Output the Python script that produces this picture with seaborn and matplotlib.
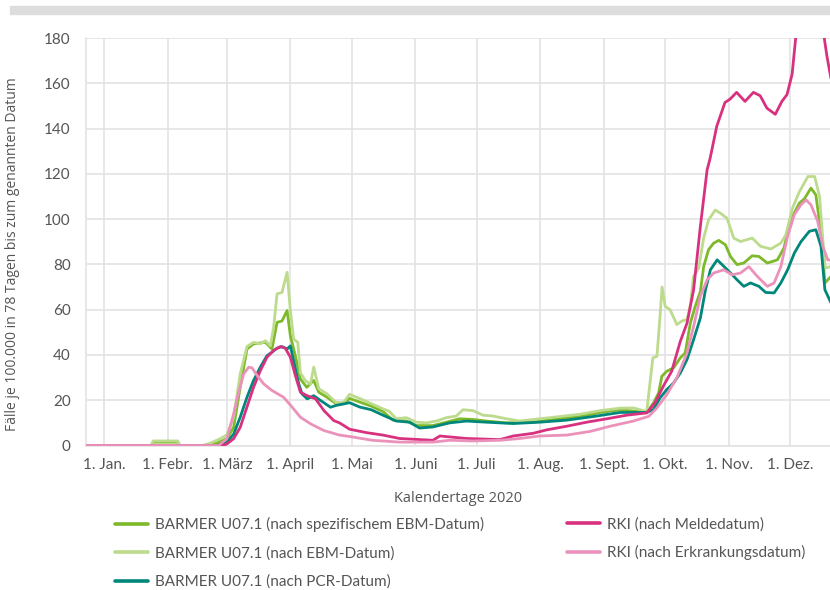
import matplotlib
matplotlib.use("Agg")
import matplotlib.pyplot as plt
from matplotlib.patches import Rectangle
from matplotlib.lines import Line2D
import seaborn as sns
import pandas as pd

# ---- data (day offset from 1 Jan 2020, value) ----
spez_days = [-9, 23, 24, 36, 37, 50, 55, 60, 63.3, 66.5, 69.8, 73, 78.8, 82, 84.5, 86.9, 89.4, 91, 93.4, 95.9, 99, 102.4, 104.9, 108.9, 113.3, 117, 119.9, 124.8, 130.5, 136.2, 141.1, 147.6, 152.5, 160.6, 167.2, 173.7, 180.2, 186.7, 196.5, 209.6, 219.4, 232.4, 242.2, 252, 265, 268.3, 270.8, 272.4, 274.8, 278.1, 281.4, 283.8, 286.3, 288.7, 291.2, 292.8, 295.2, 297.7, 300.2, 303.4, 305.9, 309.1, 312.4, 316.5, 319.8, 323.9, 328.8, 332, 335.3, 339.5, 342, 345.2, 347.6, 350.1, 352, 355]
spez_vals = [0, 0, 1.5, 1.5, 0, 0, 1, 3, 8, 25.7, 42.6, 44.9, 45.6, 42.6, 54.4, 55, 59.6, 48.5, 39.7, 29.4, 25.7, 28.7, 23.5, 21.3, 18.5, 18.4, 20.8, 19.2, 17.4, 15, 11.2, 10.8, 8.8, 8.8, 10.3, 11.8, 11.5, 10.8, 10, 10.3, 11.5, 12.8, 14.6, 15.8, 14.6, 18.8, 23.2, 30.6, 32.8, 34.3, 38.7, 40.9, 54.1, 61.5, 68, 79, 86.5, 89.4, 90.6, 88.7, 83.5, 79.9, 80.6, 83.8, 83.5, 80.6, 82, 87.2, 99.7, 107, 109, 113.7, 110.7, 93.8, 71.8, 74.7]

ebm_days = [-9, 23, 24, 36, 37, 48, 51.8, 56.7, 60, 63.3, 66.5, 69.8, 73, 76.3, 78.8, 81.2, 82.8, 84.5, 86.9, 89.4, 91, 92.6, 94.6, 95.9, 98.3, 100.8, 102.4, 104.9, 108.9, 113.3, 117, 119.9, 124.8, 130.5, 136.2, 139.4, 142.7, 147.6, 152.5, 157.4, 162.3, 167.2, 172, 175.3, 180.2, 185, 190, 196.5, 203, 212.8, 222.6, 232.4, 242.2, 252, 258.5, 265, 266.6, 268, 270, 271.5, 272.5, 274, 276.4, 279.7, 282.2, 284.7, 286.3, 287.9, 290.4, 292.8, 295.2, 298.5, 301, 304.2, 307.5, 310.8, 316.5, 320.6, 325.6, 330.5, 332.9, 336.2, 339.5, 343.7, 347, 349.4, 351, 352.2, 355]
ebm_vals = [0, 0, 2, 2, 0, 0, 1, 3, 4.7, 12.5, 31.6, 43.7, 45.6, 44.9, 46.3, 44, 52, 67, 67.6, 76.5, 59.6, 47, 45.6, 32, 28.7, 27, 34.6, 25, 22.8, 19, 19, 22.6, 20.8, 18.5, 16.2, 15, 11.8, 12.3, 10.3, 10, 10.8, 12.3, 13, 15.8, 15.4, 13.4, 13, 11.8, 10.8, 11.8, 12.8, 13.8, 15.4, 16.5, 16.6, 15, 27.6, 38.7, 39.4, 57, 70, 61.5, 60, 53.4, 55, 55.6, 62, 74.7, 78.4, 91.6, 99.7, 104, 102.6, 100.4, 91.6, 90.1, 91.6, 88, 86.8, 89.4, 93, 104.9, 112, 118.8, 118.8, 110, 90.9, 78.4, 79]

pcr_days = [-9, 55, 58, 60, 63.3, 66.5, 69.8, 73, 76.3, 79.6, 82, 84.5, 86.9, 89.4, 91, 92.6, 95.1, 96.7, 99.2, 102.4, 105.7, 110.6, 113.3, 119.9, 124.8, 130.5, 136.2, 142.7, 149.2, 154.1, 160.6, 168.8, 177, 186.7, 199.8, 212.8, 225.9, 238.9, 252, 265, 268.3, 271.5, 274.8, 278.1, 281.4, 284.7, 287.9, 291.2, 293.7, 296.1, 299.4, 301.8, 305.9, 309.1, 312.4, 315.7, 319.8, 323.1, 327.2, 330.5, 333.8, 337.1, 340.3, 344.4, 347.6, 350.1, 352, 355]
pcr_vals = [0, 0, 0.7, 1.5, 5, 12.5, 21.3, 28.7, 34.6, 39.7, 41.2, 43, 43.7, 42.6, 44, 37.5, 27.2, 22.8, 20.6, 22, 19.9, 16.9, 17.7, 18.9, 17, 15.8, 13.4, 10.8, 10.3, 7.7, 8.2, 10, 10.8, 10.3, 9.7, 10.3, 11.2, 12.8, 14.6, 14.6, 15.9, 21, 24.7, 27.6, 32, 38, 46.8, 56.3, 68.8, 77.6, 82, 79.9, 76.2, 73.2, 70.3, 71.8, 70.3, 67.6, 67.4, 71.8, 77.6, 85, 90, 94.6, 95.3, 88, 68.8, 63]

melde_days = [-9, 58, 60, 63.3, 66.5, 69.8, 73, 76.3, 79.6, 82.8, 86.1, 88.5, 91, 93.4, 95.9, 99.2, 103.3, 107.4, 112.2, 115, 119.9, 128, 136.2, 144.3, 160.6, 164, 177, 193.3, 199.8, 209.6, 216.1, 225.9, 235.7, 245.5, 255.3, 265, 269, 273.1, 277.2, 281.4, 284.7, 287.9, 291.2, 294.5, 296, 299.2, 303.2, 305.7, 308.9, 313, 317.1, 320.4, 323.7, 327.8, 331, 333.5, 336, 338.4, 345, 350.7, 353, 355]
melde_vals = [0, 0, 0.7, 3, 8, 17, 25.7, 33, 39, 42, 43.7, 43, 39, 31, 23.5, 22, 20.6, 15.4, 11, 10, 7.2, 5.7, 4.6, 3.1, 2.3, 4.2, 3.1, 2.6, 4.2, 5.4, 6.9, 8.5, 10.3, 11.8, 13.4, 14.4, 18.8, 26.2, 32.8, 46, 54.1, 68.8, 96.8, 121.8, 127, 141, 151.5, 153, 156, 152, 156, 154.5, 149, 146.3, 152, 155, 164, 186, 215, 186, 172, 162]

erkr_days = [-9, 56, 58, 60, 63.3, 65.7, 68.2, 70.6, 72.3, 74.7, 78, 82, 87.7, 91.8, 95.9, 100.8, 107.4, 115, 121.2, 131, 144.3, 160.6, 168.8, 180.2, 193.3, 203, 212.8, 225.9, 237.3, 247.1, 258.5, 266, 270, 274.8, 279.7, 284.7, 287.9, 291.2, 294.5, 297.7, 302.6, 306.7, 310.8, 314.9, 319, 323.9, 327.2, 330.5, 333.8, 337.1, 340.3, 342.8, 345.2, 348.5, 351, 353.4, 355]
erkr_vals = [0, 0, 1.5, 3, 14, 23.5, 31.6, 34.6, 34.3, 31, 27.2, 24.3, 21.3, 17, 12.5, 9.6, 6.6, 4.6, 3.8, 2.3, 1.5, 1.5, 2.3, 2, 2.3, 3.1, 4.2, 4.6, 6.2, 8.5, 10.8, 12.9, 16.6, 22.5, 29.9, 40.9, 52.6, 65.9, 73.2, 76.2, 77.6, 75.4, 76.2, 79, 74.7, 70.3, 71.8, 79, 92.4, 102, 106.3, 108.5, 106.3, 99, 88, 82, 82]

month_ticks = [0, 31, 60, 91, 121, 152, 182, 213, 244, 274, 305, 335]
month_labels = ["1. Jan.", "1. Febr.", "1. März", "1. April", "1. Mai", "1. Juni",
                "1. Juli", "1. Aug.", "1. Sept.", "1. Okt.", "1. Nov.", "1. Dez."]
y_ticks = [0, 20, 40, 60, 80, 100, 120, 140, 160, 180]

series = [
    ("BARMER U07.1 (nach spezifischem EBM-Datum)", spez_days, spez_vals, "#7db928"),
    ("BARMER U07.1 (nach EBM-Datum)", ebm_days, ebm_vals, "#bcdb8c"),
    ("BARMER U07.1 (nach PCR-Datum)", pcr_days, pcr_vals, "#00877b"),
    ("RKI (nach Meldedatum)", melde_days, melde_vals, "#d8317f"),
    ("RKI (nach Erkrankungsdatum)", erkr_days, erkr_vals, "#eb92bb"),
]

sns.set_style("white")
plt.rcParams["font.family"] = ["Lato", "DejaVu Sans"]

fig = plt.figure(figsize=(8.3, 5.9), dpi=100)
ax = fig.add_axes([86 / 830, 1 - 445.5 / 590, 1 - 86 / 830, (445.5 - 38) / 590])

# grey band at top
fig.patches.append(Rectangle((10 / 830, 1 - 14 / 590), 1 - 10 / 830, 8 / 590,
                             transform=fig.transFigure, color="#dddddd", zorder=0))

order = [4, 1, 0, 2, 3]
for i in order:
    name, d, v, c = series[i]
    df = pd.DataFrame({"day": d, "val": v})
    sns.lineplot(data=df, x="day", y="val", color=c, linewidth=2.0, ax=ax,
                 estimator=None, sort=True, legend=False, zorder=3 + i)

ax.set_xlim(-8.8, 354.5)
ax.set_ylim(0, 180)
ax.set_xticks(month_ticks)
ax.set_xticklabels(month_labels)
ax.set_yticks(y_ticks)
ax.grid(True, color="#e3e3e3", linewidth=1.2, zorder=0)
ax.set_axisbelow(True)
for s in ["top", "right"]:
    ax.spines[s].set_visible(False)
for s in ["left", "bottom"]:
    ax.spines[s].set_color("#e3e3e3")
    ax.spines[s].set_linewidth(1.2)
ax.tick_params(axis="both", length=0, labelsize=11, labelcolor="#555555")
ax.tick_params(axis="x", pad=9)
ax.tick_params(axis="y", pad=11)

ax.set_xlabel("Kalendertage 2020", fontsize=10.5, color="#555555", labelpad=14,
              family=["Open Sans", "DejaVu Sans"])
ax.set_ylabel("Fälle je 100.000 in 78 Tagen bis zum genannten Datum", fontsize=10,
              color="#555555", labelpad=14, family=["Open Sans", "DejaVu Sans"])
ax.yaxis.set_label_coords(-(86 - 20) / 744, 0.47)

def handles(idx):
    return [Line2D([], [], color=series[i][3], linewidth=2.6) for i in idx], [series[i][0] for i in idx]

h1, l1 = handles([0, 1, 2])
h2, l2 = handles([3, 4])
leg_kw = dict(frameon=False, fontsize=11, handlelength=2.15, handletextpad=0.45,
              labelspacing=0.92, labelcolor="#555555", loc="upper left", borderaxespad=0,
              borderpad=0)
fig.legend(h1, l1, bbox_to_anchor=(115 / 830, 1 - 517 / 590), **leg_kw)
fig.legend(h2, l2, bbox_to_anchor=(567 / 830, 1 - 517 / 590), **leg_kw)

fig.savefig("out.png", dpi=100)
